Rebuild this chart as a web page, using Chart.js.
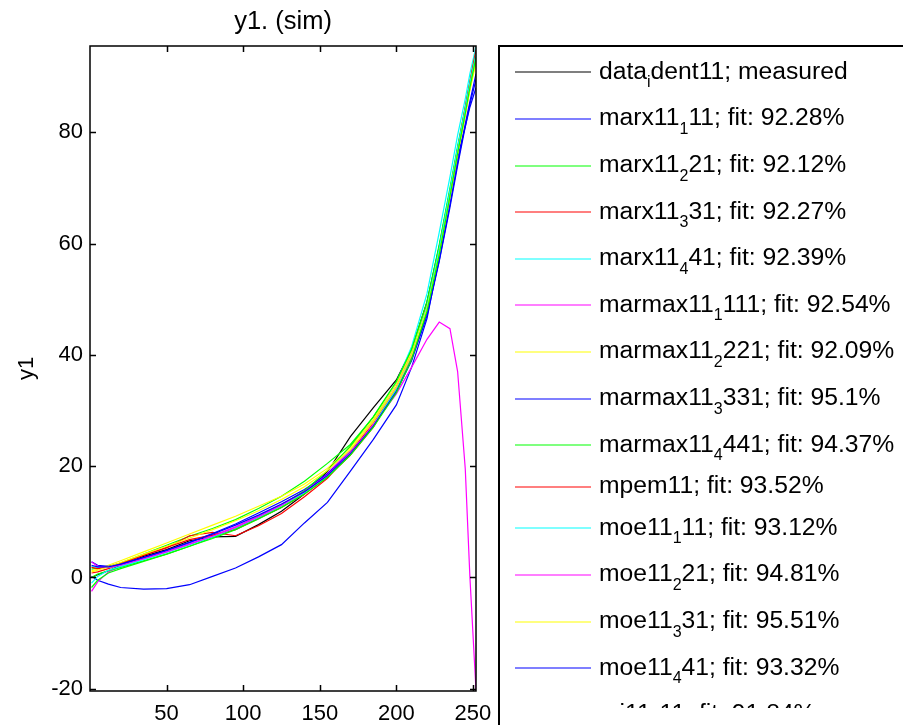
<!DOCTYPE html>
<html>
<head>
<meta charset="utf-8">
<script src="https://cdn.jsdelivr.net/npm/chart.js@4.4.0/dist/chart.umd.min.js"></script>
<style>
  html, body { margin: 0; padding: 0; background: #fff; overflow: hidden; }
</style>
</head>
<body>
<canvas id="simChart" width="903" height="725"></canvas>
<script>
// sample positions (x) shared by every series
const xs = [1, 5, 12, 20, 35, 50, 65, 80, 95, 110, 125, 140, 155, 170, 185, 200, 210, 220, 228, 235, 240, 245, 248, 252];

// series values
const dataIdent11 = [0.0, 0.5, 1.2, 2.2, 3.8, 5.0, 6.6, 7.3, 7.4, 9.5, 11.9, 15.0, 19.0, 25.3, 30.5, 35.5, 41.0, 49.5, 59.5, 69.5, 77.0, 84.0, 88.5, 93.0];
const marx11_1 = [0.2, -0.5, -1.2, -1.8, -2.1, -2.0, -1.3, 0.2, 1.7, 3.7, 5.9, 9.8, 13.5, 19.1, 24.8, 31.0, 37.8, 46.5, 57.5, 68.5, 75.5, 81.0, 84.5, 88.0];
const marx11_2 = [1.5, 1.7, 2.0, 2.6, 4.2, 5.8, 7.4, 8.8, 10.4, 12.4, 14.6, 17.3, 20.5, 23.9, 28.8, 35.0, 40.8, 49.2, 59.0, 69.0, 76.5, 83.5, 88.0, 93.0];
const marx11_3 = [0.8, 1.0, 1.6, 2.4, 4.0, 5.3, 7.5, 8.1, 7.5, 9.3, 11.5, 14.5, 17.8, 22.5, 27.8, 34.0, 40.0, 48.8, 58.8, 69.0, 76.8, 84.0, 88.5, 94.0];
const marx11_4 = [2.0, 1.8, 1.8, 2.2, 3.4, 4.6, 6.0, 7.4, 9.0, 10.9, 13.0, 15.4, 18.6, 22.8, 28.2, 35.0, 41.5, 51.0, 62.0, 72.0, 79.5, 86.0, 90.5, 95.4];
const marmax11_1 = [-2.5, -0.8, 1.0, 2.0, 3.3, 4.6, 6.0, 7.5, 9.1, 11.0, 13.1, 15.5, 18.7, 22.9, 28.0, 34.3, 40.3, 48.8, 58.8, 68.8, 76.3, 83.3, 87.8, 93.2];
const marmax11_2 = [1.2, 1.5, 2.2, 3.0, 4.6, 6.2, 7.8, 9.4, 11.0, 12.8, 14.6, 16.8, 19.6, 23.4, 28.4, 34.8, 40.6, 48.6, 58.4, 68.5, 76.0, 83.0, 87.5, 92.5];
const marmax11_3 = [2.8, 2.2, 2.0, 2.3, 3.5, 4.8, 6.3, 7.9, 9.6, 11.6, 13.6, 15.8, 18.6, 22.4, 27.2, 33.5, 39.2, 47.5, 57.0, 67.0, 74.5, 81.5, 85.5, 90.5];
const marmax11_4 = [0.0, 0.6, 1.2, 1.8, 3.0, 4.2, 5.6, 7.2, 8.8, 10.7, 13.0, 15.6, 19.2, 23.6, 28.9, 35.2, 41.0, 49.5, 59.8, 70.0, 77.5, 84.5, 89.0, 94.5];
const mpem11 = [1.8, 1.6, 1.9, 2.6, 4.0, 5.4, 6.8, 7.6, 8.6, 10.6, 12.6, 15.0, 18.0, 22.0, 27.0, 33.8, 39.8, 48.0, 58.5, 69.2, 77.0, 84.5, 89.0, 94.8];
const moe11_1 = [-1.0, 0.2, 1.3, 2.0, 3.2, 4.5, 5.9, 7.3, 8.9, 10.8, 12.9, 15.2, 18.2, 22.2, 27.4, 33.8, 40.0, 48.5, 59.0, 69.5, 77.2, 84.3, 88.8, 94.0];
const moe11_2 = [2.8, 2.0, 1.8, 2.2, 3.4, 4.6, 6.0, 7.4, 9.0, 10.9, 13.0, 15.4, 18.4, 22.4, 27.4, 33.0, 37.8, 42.8, 45.9, 44.7, 37.0, 19.5, 0.2, -20.3];
const moe11_3 = [1.0, 1.3, 1.9, 2.7, 4.2, 5.6, 7.1, 8.6, 10.2, 12.0, 14.0, 16.3, 19.2, 23.0, 28.0, 34.2, 40.0, 48.2, 58.2, 68.5, 76.2, 83.2, 87.8, 93.0];
const moe11_4 = [2.2, 1.9, 1.9, 2.4, 3.6, 4.9, 6.3, 7.8, 9.4, 11.2, 13.2, 15.4, 18.3, 22.2, 27.2, 33.4, 39.0, 47.0, 56.8, 66.5, 74.0, 81.0, 85.0, 89.5];
const mi11_1 = [-1.8, -0.5, 0.8, 1.6, 2.9, 4.2, 5.6, 7.0, 8.6, 10.5, 12.6, 15.0, 18.0, 22.0, 27.0, 33.2, 39.2, 47.8, 58.0, 68.5, 76.2, 83.4, 88.0, 93.5];

const seriesValues = [dataIdent11, marx11_1, marx11_2, marx11_3, marx11_4, marmax11_1, marmax11_2,
  marmax11_3, marmax11_4, mpem11, moe11_1, moe11_2, moe11_3, moe11_4, mi11_1];

const seriesColors = ['#000000', '#0000ff', '#00ff00', '#ff0000', '#00ffff', '#ff00ff', '#ffff00',
  '#0000ff', '#00ff00', '#ff0000', '#00ffff', '#ff00ff', '#ffff00', '#0000ff', '#00ff00'];

// legend text: [before subscript, subscript, after subscript]
const legendLabels = [
  ['data', 'i', 'dent11; measured'],
  ['marx11', '1', '11; fit: 92.28%'],
  ['marx11', '2', '21; fit: 92.12%'],
  ['marx11', '3', '31; fit: 92.27%'],
  ['marx11', '4', '41; fit: 92.39%'],
  ['marmax11', '1', '111; fit: 92.54%'],
  ['marmax11', '2', '221; fit: 92.09%'],
  ['marmax11', '3', '331; fit: 95.1%'],
  ['marmax11', '4', '441; fit: 94.37%'],
  ['mpem11; fit: 93.52%', '', ''],
  ['moe11', '1', '11; fit: 93.12%'],
  ['moe11', '2', '21; fit: 94.81%'],
  ['moe11', '3', '31; fit: 95.51%'],
  ['moe11', '4', '41; fit: 93.32%'],
  ['mi11', '1', '11; fit: 91.84%']
];

const xTicks = [50, 100, 150, 200, 250];
const yTicks = [-20, 0, 20, 40, 60, 80];

const FONT = '"Liberation Sans", Arial, sans-serif';

// box, inward ticks, title and the legend, drawn MATLAB style
const matlabFrame = {
  id: 'matlabFrame',
  afterDraw(chart) {
    const { ctx, chartArea: a, scales: { x, y } } = chart;
    ctx.save();
    ctx.strokeStyle = '#000';
    ctx.lineWidth = 1.5;
    ctx.strokeRect(a.left, a.top, a.right - a.left, a.bottom - a.top);

    ctx.beginPath();
    xTicks.forEach(v => {
      const px = Math.round(x.getPixelForValue(v)) + 0.5;
      ctx.moveTo(px, a.bottom); ctx.lineTo(px, a.bottom - 6);
      ctx.moveTo(px, a.top); ctx.lineTo(px, a.top + 6);
    });
    yTicks.forEach(v => {
      const py = Math.round(y.getPixelForValue(v)) + 0.5;
      ctx.moveTo(a.left, py); ctx.lineTo(a.left + 6, py);
      ctx.moveTo(a.right, py); ctx.lineTo(a.right - 6, py);
    });
    ctx.stroke();

    // title
    ctx.fillStyle = '#000';
    ctx.font = '25.5px ' + FONT;
    ctx.textAlign = 'center';
    ctx.textBaseline = 'alphabetic';
    ctx.fillText('y1. (sim)', (a.left + a.right) / 2, 29);

    // legend box
    const boxLeft = 499;
    ctx.lineWidth = 2;
    ctx.strokeRect(boxLeft, a.top, 500, 800);

    ctx.textAlign = 'left';
    let yc = 72.3;
    legendLabels.forEach((parts, i) => {
      if (i > 0) {
        const hPrev = legendLabels[i - 1][1] ? 46.6 : 36.6;
        const hCur = parts[1] ? 46.6 : 36.6;
        yc += (hPrev + hCur) / 2;
      }
      ctx.save();
      if (i === legendLabels.length - 1) {
        ctx.beginPath();
        ctx.rect(boxLeft + 2, 702, 400, 6);
        ctx.clip();
      }
      ctx.strokeStyle = seriesColors[i];
      ctx.lineWidth = 1.2;
      ctx.beginPath();
      ctx.moveTo(515, Math.round(yc));
      ctx.lineTo(591, Math.round(yc));
      ctx.stroke();

      let tx = 599;
      ctx.fillStyle = '#000';
      ctx.font = '24.7px ' + FONT;
      ctx.fillText(parts[0], tx, yc + 6.5);
      tx += ctx.measureText(parts[0]).width;
      if (parts[1]) {
        ctx.font = '16px ' + FONT;
        ctx.fillText(parts[1], tx, yc + 15);
        tx += ctx.measureText(parts[1]).width;
        ctx.font = '24.7px ' + FONT;
        ctx.fillText(parts[2], tx, yc + 6.5);
      }
      ctx.restore();
    });
    ctx.restore();
  }
};

const datasets = seriesValues.map((vals, i) => ({
  label: legendLabels[i].join(''),
  data: xs.map((xv, k) => ({ x: xv, y: vals[k] })),
  borderColor: seriesColors[i],
  borderWidth: 1.2,
  pointRadius: 0,
  tension: 0,
  fill: false,
  order: seriesValues.length - i
}));

new Chart(document.getElementById('simChart').getContext('2d'), {
  type: 'line',
  data: { datasets: datasets },
  options: {
    responsive: false,
    animation: false,
    devicePixelRatio: 1,
    layout: { padding: { top: 46, right: 427, left: 0, bottom: 0 } },
    plugins: {
      legend: { display: false },
      tooltip: { enabled: false }
    },
    scales: {
      x: {
        type: 'linear',
        min: 0,
        max: 252,
        afterBuildTicks: scale => { scale.ticks = xTicks.map(v => ({ value: v })); },
        afterFit: scale => { scale.height = 34; },
        grid: { display: false, drawTicks: false },
        border: { display: false },
        ticks: { color: '#000', font: { family: FONT, size: 22 }, padding: 10, maxRotation: 0, autoSkip: false }
      },
      y: {
        type: 'linear',
        min: -20.4,
        max: 95.5,
        afterBuildTicks: scale => { scale.ticks = yTicks.map(v => ({ value: v })); },
        afterFit: scale => { scale.width = 90; },
        grid: { display: false, drawTicks: false },
        border: { display: false },
        ticks: { color: '#000', font: { family: FONT, size: 22 }, padding: 7, autoSkip: false },
        title: { display: true, text: 'y1', color: '#000', font: { family: FONT, size: 22 }, padding: { top: 14, bottom: 0 } }
      }
    }
  },
  plugins: [matlabFrame]
});
</script>
</body>
</html>
